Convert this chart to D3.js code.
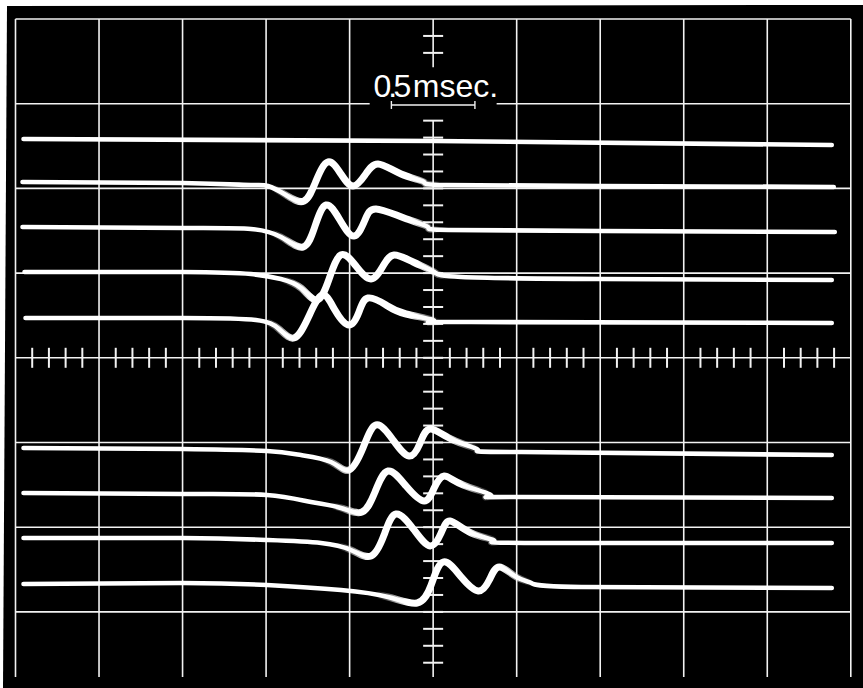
<!DOCTYPE html>
<html>
<head>
<meta charset="utf-8">
<script src="https://cdn.jsdelivr.net/npm/d3@7"></script>
<style>
  html, body { margin: 0; padding: 0; background: #fff; }
  svg { display: block; }
</style>
</head>
<body>
<div id="chart"></div>
<script>
// Oscilloscope screen: time in ms (0.5 ms per division), signal in divisions from centre line
const timeDomain = [0, 5];
const signalDomain = [-4, 4];
const majorTimes = d3.range(0, 5.001, 0.5);
const majorSignals = [4, 3, 2, 1, 0, -1, -2, -3];
const minorTimes = d3.range(0.1, 5, 0.1);
const minorSignals = d3.range(1, 39).map(k => 4 - k * 0.2).filter((v, i) => i < 2 || i > 4);

const scaleLabel = "0.5msec.";
const scaleBar = [2.25, 2.75];

// traces, [time ms, signal div]
const trace1 = [[0.048, 2.583], [2.512, 2.560], [4.886, 2.512]];
const trace2 = [[0.042, 2.075], [1.001, 2.064], [1.409, 2.040], [1.511, 2.028], [1.619, 1.922], [1.727, 1.851],
  [1.799, 2.088], [1.871, 2.312], [1.948, 2.170], [2.020, 2.028], [2.092, 2.158], [2.170, 2.288],
  [2.308, 2.170], [2.446, 2.075], [2.578, 2.040], [3.507, 2.028], [4.898, 2.017]];
const trace3 = [[0.042, 1.544], [1.001, 1.532], [1.409, 1.521], [1.589, 1.426], [1.721, 1.308], [1.793, 1.556],
  [1.859, 1.804], [1.942, 1.627], [2.026, 1.438], [2.092, 1.627], [2.158, 1.757], [2.326, 1.651],
  [2.470, 1.544], [2.590, 1.509], [3.507, 1.497], [4.904, 1.485]];
const trace4 = [[0.054, 1.013], [1.001, 1.013], [1.409, 0.989], [1.589, 0.930], [1.709, 0.824], [1.805, 0.682],
  [1.877, 0.930], [1.948, 1.214], [2.038, 1.084], [2.128, 0.930], [2.200, 1.084], [2.266, 1.214],
  [2.380, 1.131], [2.506, 1.013], [2.668, 0.954], [3.507, 0.930], [4.886, 0.919]];
const trace5 = [[0.060, 0.470], [1.001, 0.470], [1.439, 0.446], [1.577, 0.340], [1.667, 0.234], [1.751, 0.470],
  [1.835, 0.741], [1.912, 0.564], [1.996, 0.387], [2.056, 0.541], [2.110, 0.706], [2.218, 0.623],
  [2.338, 0.517], [2.506, 0.434], [2.728, 0.423], [4.886, 0.411]];
const trace6 = [[0.048, -1.065], [1.001, -1.077], [1.505, -1.101], [1.709, -1.148], [1.888, -1.230], [1.996, -1.325],
  [2.080, -1.065], [2.158, -0.793], [2.260, -0.970], [2.356, -1.160], [2.422, -1.006], [2.482, -0.841],
  [2.620, -0.970], [2.770, -1.089], [3.028, -1.113], [4.886, -1.148]];
const trace7 = [[0.048, -1.596], [1.001, -1.608], [1.505, -1.620], [1.769, -1.702], [1.948, -1.773], [2.074, -1.821],
  [2.152, -1.584], [2.230, -1.337], [2.338, -1.514], [2.446, -1.691], [2.506, -1.538], [2.566, -1.396],
  [2.680, -1.502], [2.848, -1.631], [3.028, -1.643], [4.886, -1.655]];
const trace8 = [[0.048, -2.127], [1.001, -2.127], [1.505, -2.151], [1.829, -2.186], [2.008, -2.269], [2.128, -2.340],
  [2.206, -2.092], [2.278, -1.844], [2.386, -2.033], [2.482, -2.222], [2.548, -2.068], [2.602, -1.927],
  [2.728, -2.068], [2.866, -2.162], [3.088, -2.186], [4.886, -2.186]];
const trace9 = [[0.048, -2.671], [1.001, -2.659], [1.505, -2.683], [1.948, -2.742], [2.230, -2.824], [2.404, -2.895],
  [2.488, -2.683], [2.560, -2.411], [2.668, -2.588], [2.770, -2.753], [2.836, -2.624], [2.896, -2.470],
  [2.998, -2.588], [3.088, -2.659], [3.387, -2.706], [4.886, -2.718]];
const traces = [trace1, trace2, trace3, trace4, trace5, trace6, trace7, trace8, trace9];
// part of each sweep where the response is (drawn brighter)
const waveWindows = [null, [1.62, 2.45], [1.62, 2.45], [1.68, 2.5], [1.58, 2.45],
  [1.92, 2.68], [1.98, 2.75], [2.02, 2.8], [2.25, 3.0]];
const fade = 0.09;

const width = 863, height = 688;

const svg = d3.select("#chart").append("svg")
    .attr("width", width)
    .attr("height", height);

// photo edge: white margin at top and left
svg.append("polygon")
    .attr("points", [[7, 6], [863, 5], [863, 688], [3, 688]].join(" "))
    .attr("fill", "#000");

const x = d3.scaleLinear().domain(timeDomain).range([15.5, 850.8]);
const y = d3.scaleLinear().domain(signalDomain).range([696.6, 19]);
const yBottom = 677;

const grid = svg.append("g")
    .attr("stroke", "#f2f2f2")
    .attr("stroke-width", 1.6)
    .attr("fill", "none");

// vertical graticule lines (centre one is drawn with the axis)
grid.selectAll("line.v")
    .data(majorTimes.filter(t => t !== 2.5))
    .join("line")
    .attr("class", "v")
    .attr("x1", d => x(d)).attr("x2", d => x(d))
    .attr("y1", y(4)).attr("y2", yBottom);

// horizontal graticule lines, the one under the label has a gap
grid.selectAll("line.h")
    .data(majorSignals.filter(v => v !== 3))
    .join("line")
    .attr("class", "h")
    .attr("x1", x(0)).attr("x2", x(5))
    .attr("y1", d => y(d)).attr("y2", d => y(d));

grid.append("line")
    .attr("x1", x(0)).attr("x2", x(2.12))
    .attr("y1", y(3)).attr("y2", y(3));
grid.append("line")
    .attr("x1", x(2.88)).attr("x2", x(5))
    .attr("y1", y(3)).attr("y2", y(3));

// centre vertical axis with a gap for the label
grid.append("line")
    .attr("x1", x(2.5)).attr("x2", x(2.5))
    .attr("y1", y(4)).attr("y2", y(3.43));
grid.append("line")
    .attr("x1", x(2.5)).attr("x2", x(2.5))
    .attr("y1", y(2.8)).attr("y2", yBottom);

const ticks = svg.append("g")
    .attr("stroke", "#f2f2f2")
    .attr("stroke-width", 2);

ticks.selectAll("line.tx")
    .data(minorTimes.filter(t => Math.abs(t / 0.5 - Math.round(t / 0.5)) > 0.01))
    .join("line")
    .attr("class", "tx")
    .attr("x1", d => x(d)).attr("x2", d => x(d))
    .attr("y1", y(0) - 10).attr("y2", y(0) + 10);

ticks.selectAll("line.ty")
    .data(minorSignals)
    .join("line")
    .attr("class", "ty")
    .attr("x1", x(2.5) - 10).attr("x2", x(2.5) + 10)
    .attr("y1", d => y(d)).attr("y2", d => y(d));

// 0.5 msec calibration bar and label
const cal = svg.append("g").attr("stroke", "#f2f2f2").attr("stroke-width", 1.4);
const barY = y(2.985);
cal.append("line")
    .attr("x1", x(scaleBar[0])).attr("x2", x(scaleBar[1]))
    .attr("y1", barY).attr("y2", barY);
cal.selectAll("line.end")
    .data(scaleBar)
    .join("line")
    .attr("class", "end")
    .attr("x1", d => x(d)).attr("x2", d => x(d))
    .attr("y1", barY - 4).attr("y2", barY + 4);

svg.append("text")
    .attr("x", x(2.5) - 59.7)
    .attr("dx", "0 -3.1 -3.6 1.5")
    .attr("y", y(3.076))
    .attr("fill", "#fff")
    .attr("font-family", "Liberation Sans, Arial, sans-serif")
    .attr("font-size", 32)
    .text(scaleLabel);

// sweeps
const line = d3.line()
    .x(d => x(d[0]))
    .y(d => y(d[1]))
    .curve(d3.curveNatural);

const defs = svg.append("defs");
const sweeps = svg.append("g")
    .attr("fill", "none")
    .attr("stroke", "#fff")
    .attr("stroke-linecap", "round")
    .attr("stroke-linejoin", "round");

traces.forEach((tr, i) => {
    sweeps.append("path")
        .attr("d", line(tr))
        .attr("stroke-width", 4.6);

    const w = waveWindows[i];
    if (!w) return;
    // the brighter (thicker) response part fades in and out along the sweep
    const a = w[0] - fade, b = w[1] + fade;
    const f = 2 * fade / (b - a);
    const grad = defs.append("linearGradient")
        .attr("id", "g" + i)
        .attr("gradientUnits", "userSpaceOnUse")
        .attr("x1", x(a)).attr("x2", x(b))
        .attr("y1", 0).attr("y2", 0);
    grad.selectAll("stop")
        .data([[0, "#000"], [f, "#fff"], [1 - f, "#fff"], [1, "#000"]])
        .join("stop")
        .attr("offset", d => d[0])
        .attr("stop-color", d => d[1]);
    defs.append("mask")
        .attr("id", "m" + i)
        .attr("maskUnits", "userSpaceOnUse")
        .attr("x", 0).attr("y", 0).attr("width", width).attr("height", height)
        .append("rect")
        .attr("x", 0).attr("y", 0).attr("width", width).attr("height", height)
        .attr("fill", "url(#g" + i + ")");
    sweeps.append("path")
        .attr("d", line(tr))
        .attr("stroke-width", 7)
        .attr("mask", "url(#m" + i + ")");
});
</script>
</body>
</html>
